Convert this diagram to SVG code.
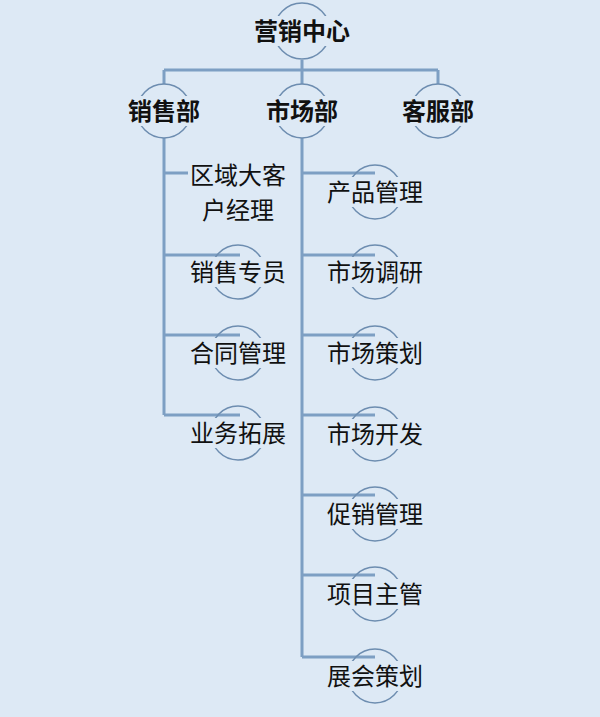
<svg xmlns="http://www.w3.org/2000/svg" width="600" height="717" viewBox="0 0 600 717">
<style>
.c{fill:none;stroke:#6d8db0;stroke-width:1.5}
.m{fill:#dde9f5}
.t{font-family:"Liberation Sans","Noto Sans CJK SC",sans-serif;font-size:24px;fill:#111;text-anchor:middle;dominant-baseline:central}
.b{font-weight:bold}
.l{fill:none;stroke:#7d9fc3;stroke-width:3}
</style>
<rect width="600" height="717" fill="#dde9f5"/>
<g id="connectors">
<path class="l" d="M302 60V70M164 70H438M164 70V84M302 70V84M438 70V84"/>
<path class="l" d="M164 138V415M164 173H240M164 255H240M164 335H240M164 415H240"/>
<path class="l" d="M302 138V657M302 173H375M302 255H375M302 335H375M302 415H375M302 495H375M302 575H375M302 657H375"/>
</g>
<g id="n0"><circle class="c" cx="302" cy="31" r="28"/><rect class="m" x="250" y="16" width="104" height="30"/><text class="t b" x="302" y="31">营销中心</text></g>
<g id="n1"><circle class="c" cx="164" cy="111" r="27"/><rect class="m" x="122" y="96" width="84" height="30"/><text class="t b" x="164" y="111">销售部</text></g>
<g id="n2"><circle class="c" cx="302" cy="111" r="27"/><rect class="m" x="260" y="96" width="84" height="30"/><text class="t b" x="302" y="111">市场部</text></g>
<g id="n3"><circle class="c" cx="438" cy="111" r="27"/><rect class="m" x="396" y="96" width="84" height="30"/><text class="t b" x="438" y="111">客服部</text></g>
<g id="s1"><circle class="c" cx="238" cy="192" r="28"/><rect class="m" x="188" y="161" width="100" height="62"/><text class="t" x="238" y="175">区域大客</text><text class="t" x="238" y="210">户经理</text></g>
<g id="s2"><circle class="c" cx="238" cy="272" r="27"/><rect class="m" x="188" y="257" width="100" height="30"/><text class="t" x="238" y="272">销售专员</text></g>
<g id="s3"><circle class="c" cx="238" cy="353" r="27"/><rect class="m" x="188" y="338" width="100" height="30"/><text class="t" x="238" y="353">合同管理</text></g>
<g id="s4"><circle class="c" cx="238" cy="433" r="27"/><rect class="m" x="188" y="418" width="100" height="30"/><text class="t" x="238" y="433">业务拓展</text></g>
<g id="m1"><circle class="c" cx="375" cy="192" r="27"/><rect class="m" x="325" y="177" width="100" height="30"/><text class="t" x="375" y="192">产品管理</text></g>
<g id="m2"><circle class="c" cx="375" cy="272" r="27"/><rect class="m" x="325" y="257" width="100" height="30"/><text class="t" x="375" y="272">市场调研</text></g>
<g id="m3"><circle class="c" cx="375" cy="353" r="27"/><rect class="m" x="325" y="338" width="100" height="30"/><text class="t" x="375" y="353">市场策划</text></g>
<g id="m4"><circle class="c" cx="375" cy="434" r="27"/><rect class="m" x="325" y="419" width="100" height="30"/><text class="t" x="375" y="434">市场开发</text></g>
<g id="m5"><circle class="c" cx="375" cy="514" r="27"/><rect class="m" x="325" y="499" width="100" height="30"/><text class="t" x="375" y="514">促销管理</text></g>
<g id="m6"><circle class="c" cx="375" cy="594" r="27"/><rect class="m" x="325" y="579" width="100" height="30"/><text class="t" x="375" y="594">项目主管</text></g>
<g id="m7"><circle class="c" cx="375" cy="676" r="27"/><rect class="m" x="325" y="661" width="100" height="30"/><text class="t" x="375" y="676">展会策划</text></g>
</svg>
